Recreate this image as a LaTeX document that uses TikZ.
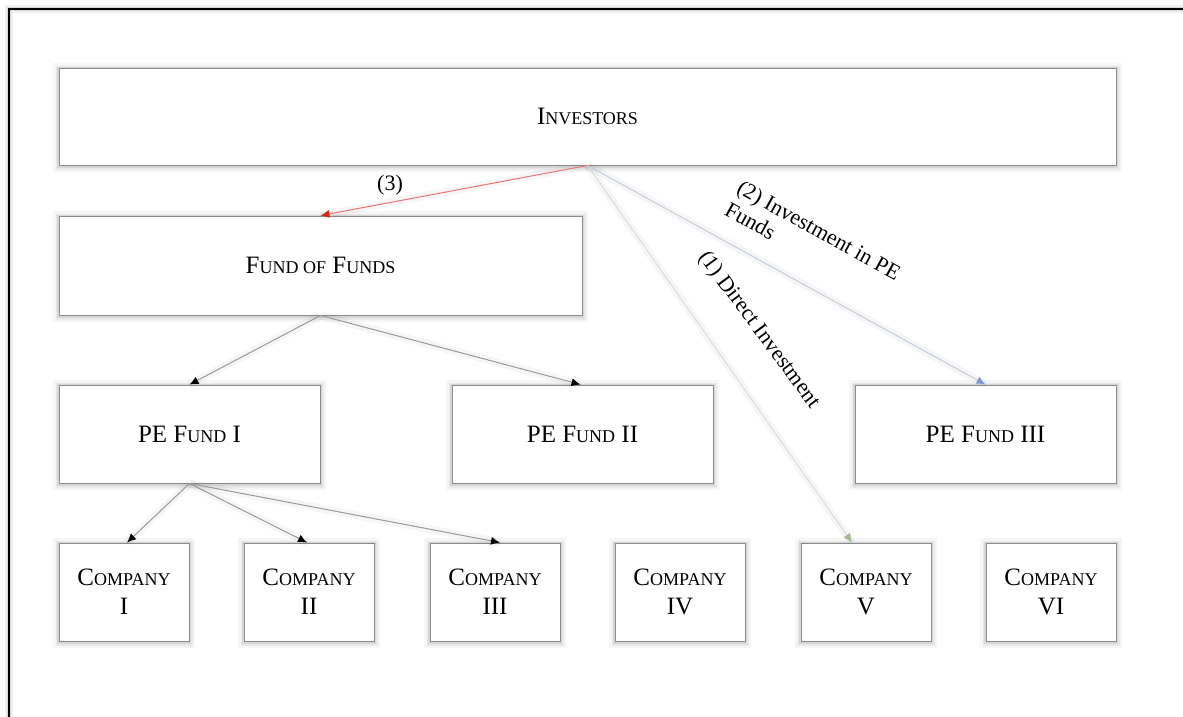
\documentclass[tikz,border=0pt]{standalone}
\usepackage{fontspec}
\setmainfont{Liberation Serif}
\usetikzlibrary{arrows.meta}

% reduced capitals for the small-caps look
\newcommand\lowcaps[1]{{\fontsize{9}{14}\selectfont #1}}

\definecolor{boxline}{RGB}{140,140,140}
\definecolor{linkgrey}{RGB}{155,155,155}
\definecolor{linkred}{RGB}{232,120,120}
\definecolor{tipred}{RGB}{215,40,30}
\definecolor{linkblue}{RGB}{195,205,222}
\definecolor{tipblue}{RGB}{125,155,205}
\definecolor{linkgreen}{RGB}{218,222,212}
\definecolor{tipgreen}{RGB}{165,185,145}

\tikzset{
  softshade/.style={
    preaction={draw=black, draw opacity=0.035, line width=6pt,
      transform canvas={yshift=-0.6pt}},
    preaction={draw=black, draw opacity=0.05, line width=3.5pt,
      transform canvas={yshift=-0.6pt}},
    preaction={draw=black, draw opacity=0.08, line width=1.8pt,
      transform canvas={yshift=-0.5pt}}},
  entity/.style={softshade, draw=boxline, line width=0.45pt, fill=white,
    align=center, inner sep=0pt, font=\fontsize{12.5}{14.5}\selectfont},
  wide/.style={entity, minimum width=528.5pt, minimum height=48.5pt},
  half/.style={entity, minimum width=261.5pt, minimum height=49.5pt},
  fund/.style={entity, minimum width=130.5pt, minimum height=49pt},
  firm/.style={entity, minimum width=65pt, minimum height=49pt},
  glow/.style={preaction={draw=black, draw opacity=0.035, line width=4pt, arrows=-}},
  link/.style={glow, draw=linkgrey, line width=0.5pt,
    -{Latex[length=4.5pt, width=4pt, color=black]}},
  redlink/.style={glow, draw=linkred, line width=0.5pt,
    -{Latex[length=4.5pt, width=4pt, color=tipred]}},
  bluelink/.style={glow, draw=linkblue, line width=0.5pt,
    -{Latex[length=4.5pt, width=4pt, color=tipblue]}},
  greenlink/.style={glow, draw=linkgreen, line width=0.5pt,
    -{Latex[length=4.5pt, width=4pt, color=tipgreen]}},
  tag/.style={font=\fontsize{11}{12.5}\selectfont, inner sep=0pt}
}

\begin{document}
\begin{tikzpicture}[x=0.5pt, y=-0.5pt]
  \useasboundingbox (0,0) rectangle (1183,717);
  \clip (0,0) rectangle (1183,717);
  \fill[white] (0,0) rectangle (1183,717);

  % page frame, only its top and left edges fall inside the view
  \draw[black!6, line width=4pt] (9,740) -- (9,9) -- (1200,9);
  \draw[black!15, line width=2pt] (9,740) -- (9,9) -- (1200,9);
  \draw[black, line width=1.1pt] (9,740) -- (9,9) -- (1200,9);

  % boxes
  \node[wide] (inv) at (587.5,116.5) {I\lowcaps{NVESTORS}};
  \node[half] (fof) at (320.5,265.5) {F\lowcaps{UND OF} F\lowcaps{UNDS}};

  \node[fund] (pe1) at (189.5,434) {PE F\lowcaps{UND} I};
  \node[fund] (pe2) at (582.5,434) {PE F\lowcaps{UND} II};
  \node[fund] (pe3) at (985.5,434) {PE F\lowcaps{UND} III};

  \node[firm] (c1) at (124,592)  {C\lowcaps{OMPANY}\\I};
  \node[firm] (c2) at (309,592)  {C\lowcaps{OMPANY}\\II};
  \node[firm] (c3) at (495,592)  {C\lowcaps{OMPANY}\\III};
  \node[firm] (c4) at (680,592)  {C\lowcaps{OMPANY}\\IV};
  \node[firm] (c5) at (866,592)  {C\lowcaps{OMPANY}\\V};
  \node[firm] (c6) at (1051,592) {C\lowcaps{OMPANY}\\VI};

  % connectors
  \draw[greenlink] (inv.south) -- ([xshift=-7pt]c5.north);
  \draw[bluelink]  (inv.south) -- (pe3.north);
  \draw[redlink]   (inv.south) -- (fof.north);

  \draw[link] (fof.south) -- (pe1.north);
  \draw[link] (fof.south) -- ([xshift=-1pt]pe2.north);

  \draw[link] (pe1.south) -- ([xshift=1.5pt]c1.north);
  \draw[link] (pe1.south) -- ([xshift=-1pt]c2.north);
  \draw[link] (pe1.south) -- ([xshift=2.5pt]c3.north);

  % connector labels
  \node[tag] (t3) at (390,185) {(3)};
  \node[tag, align=left, rotate=-29] (t2) at (813,241)
    {(2) Investment in PE\\Funds};
  \node[tag, rotate=-53.5] (t1) at (759,330) {(1) Direct Investment};
\end{tikzpicture}
\end{document}
